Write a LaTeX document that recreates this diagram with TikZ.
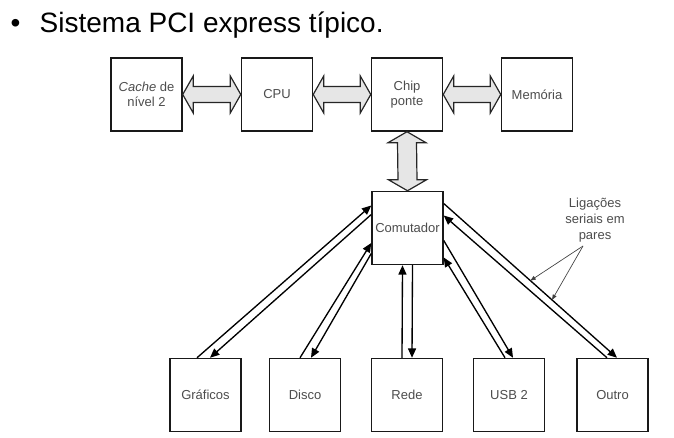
\documentclass[tikz,border=0pt]{standalone}
\usepackage{fontspec}
\setmainfont{Liberation Sans}
\usetikzlibrary{arrows.meta,calc}

\definecolor{busgray}{HTML}{E6E6E6}
\definecolor{labelgray}{HTML}{4D4D4D}

\tikzset{
  unit/.style={draw=black!90,line width=1.1pt,inner sep=0pt,
    minimum width=53.25pt,minimum height=54.75pt,align=center,
    font=\fontsize{9.75}{11.5}\selectfont,text=labelgray},
  bus/.style={draw=black!85,line width=0.9pt,fill=busgray,line join=miter},
  link/.style={line width=1pt,-{Triangle[length=7pt,width=6pt]}},
  pointer/.style={draw=black!75,line width=0.5pt,-{Triangle[length=4pt,width=3pt]}}
}

% hollow double arrows (units are pixels, y downwards)
\newcommand{\hbus}[2]{%
  \draw[bus] (#1.east) -- ($(#1.east)+(10.5,-18.5)$) -- ($(#1.east)+(10.5,-8)$)
    -- ($(#2.west)+(-10.5,-8)$) -- ($(#2.west)+(-10.5,-18.5)$) -- (#2.west)
    -- ($(#2.west)+(-10.5,18.5)$) -- ($(#2.west)+(-10.5,8)$)
    -- ($(#1.east)+(10.5,8)$) -- ($(#1.east)+(10.5,18.5)$) -- cycle;}
\newcommand{\vbus}[2]{%
  \draw[bus] (#1.south) -- ($(#1.south)+(-19,11)$) -- ($(#1.south)+(-9.5,11)$)
    -- ($(#2.north)+(-9.5,-11)$) -- ($(#2.north)+(-19,-11)$) -- (#2.north)
    -- ($(#2.north)+(19,-11)$) -- ($(#2.north)+(9.5,-11)$)
    -- ($(#1.south)+(9.5,11)$) -- ($(#1.south)+(19,11)$) -- cycle;}

\begin{document}
\begin{tikzpicture}[x=0.75pt,y=-0.75pt]
  \useasboundingbox[fill=white] (0,0) rectangle (674,438);

  % title
  \node[anchor=base west,font=\fontsize{21}{25}\selectfont] (bullet) at (6,33) {•};
  \node[anchor=base west,font=\fontsize{21}{25}\selectfont] (title) at (35,33) {Sistema PCI express típico.};

  % top row
  \node[unit] (cache) at (146.5,94.5) {\textit{Cache} de\\nível 2};
  \node[unit] (cpu) at (277,94.5) {CPU};
  \node[unit] (chip) at (407,94.5) {Chip\\ponte};
  \node[unit] (mem) at (537,94.5) {Memória};
  \node[unit] (com) at (407.5,228) {Comutador};

  % devices
  \node[unit] (gra) at (205.5,395) {Gráficos};
  \node[unit] (dis) at (305,395) {Disco};
  \node[unit] (rede) at (407,395) {Rede};
  \node[unit] (usb) at (509,395) {USB 2};
  \node[unit] (out) at (612.5,395) {Outro};

  \hbus{cache}{cpu}
  \hbus{cpu}{chip}
  \hbus{chip}{mem}
  \vbus{chip}{com}

  % serial lane pairs
  \draw[link] ($(gra.north)+(-8.5,0)$) -- ($(com.west)+(0,-22.5)$);
  \draw[link] ($(com.west)+(0,-13.5)$) -- ($(gra.north)+(4.5,0)$);
  \draw[link] ($(dis.north)+(-5,0)$) -- ($(com.west)+(0,15)$);
  \draw[link] ($(com.west)+(0,25.5)$) -- ($(dis.north)+(6,0)$);
  \draw[link] ($(rede.north)+(-5,0)$) -- ($(com.south)+(-5,0)$);
  \draw[link] ($(com.south)+(5,0)$) -- ($(rede.north)+(5,0)$);
  \draw[link] ($(com.east)+(0,12.5)$) -- ($(usb.north)+(4,0)$);
  \draw[link] ($(usb.north)+(-4,0)$) -- ($(com.east)+(0,29.5)$);
  \draw[link] ($(com.east)+(0,-24.5)$) -- coordinate[pos=0.5] (p1) coordinate[pos=0.625] (p2) ($(out.north)+(4.5,0)$);
  \draw[link] ($(out.north)+(-5.5,0)$) -- ($(com.east)+(0,-12.5)$);

  % callout
  \node[align=center,font=\fontsize{9.75}{12}\selectfont,text=labelgray] (lig) at (595,220) {Ligações\\seriais em\\pares};
  \coordinate (lig-apex) at (583,246);
  \draw[pointer] (lig-apex) -- (p1);
  \draw[pointer] (lig-apex) -- (p2);
\end{tikzpicture}
\end{document}
